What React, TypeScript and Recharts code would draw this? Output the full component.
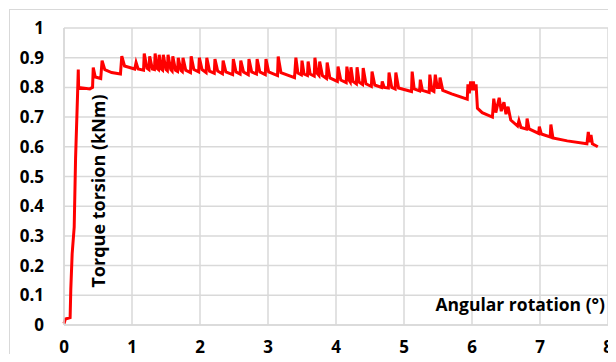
import { LineChart, Line, XAxis, YAxis, CartesianGrid } from "recharts";

// angular rotation (deg)
const angle = [
  0, 0.02, 0.09, 0.1, 0.12, 0.15, 0.17, 0.2, 0.21, 0.215, 0.38, 0.42, 0.43, 0.46, 0.54, 0.56, 0.6, 0.7,
  0.83, 0.85, 0.89, 1.04, 1.06, 1.09, 1.17, 1.18, 1.22, 1.25, 1.26, 1.3, 1.33, 1.34, 1.37, 1.39, 1.4,
  1.43, 1.45, 1.46, 1.5, 1.52, 1.53, 1.57, 1.59, 1.6, 1.64, 1.67, 1.68, 1.72, 1.74, 1.75, 1.79, 1.86,
  1.87, 1.91, 1.98, 1.99, 2.03, 2.09, 2.1, 2.14, 2.21, 2.22, 2.26, 2.33, 2.34, 2.38, 2.48, 2.49, 2.53,
  2.59, 2.6, 2.64, 2.71, 2.72, 2.76, 2.83, 2.84, 2.88, 2.96, 2.97, 3.01, 3.14, 3.15, 3.19, 3.39, 3.41,
  3.44, 3.49, 3.5, 3.53, 3.58, 3.59, 3.62, 3.68, 3.69, 3.72, 3.75, 3.76, 3.8, 3.86, 3.87, 3.91, 4.02,
  4.03, 4.07, 4.15, 4.16, 4.19, 4.21, 4.22, 4.25, 4.3, 4.31, 4.34, 4.39, 4.4, 4.44, 4.52, 4.53, 4.57,
  4.67, 4.68, 4.71, 4.77, 4.78, 4.82, 4.87, 4.88, 4.92, 5.11, 5.12, 5.15, 5.23, 5.24, 5.27, 5.37, 5.38,
  5.41, 5.44, 5.46, 5.49, 5.52, 5.53, 5.57, 5.7, 5.93, 5.94, 5.96, 5.98, 6.0, 6.02, 6.04, 6.06, 6.08,
  6.15, 6.3, 6.32, 6.35, 6.4, 6.43, 6.47, 6.5, 6.53, 6.57, 6.67, 6.69, 6.72, 6.8, 6.81, 6.84, 6.98,
  6.99, 7.02, 7.15, 7.16, 7.19, 7.4, 7.69, 7.71, 7.73, 7.75, 7.77, 7.85,
];

// torque (kNm)
const torque = [
  0.005, 0.02, 0.025, 0.12, 0.24, 0.33, 0.56, 0.78, 0.86, 0.8, 0.795, 0.8, 0.867, 0.835, 0.83, 0.89, 0.86, 0.85,
  0.845, 0.905, 0.872, 0.862, 0.884, 0.862, 0.858, 0.914, 0.865, 0.86, 0.905, 0.862, 0.86, 0.914, 0.864, 0.86, 0.91,
  0.862, 0.858, 0.91, 0.86, 0.856, 0.91, 0.86, 0.855, 0.905, 0.858, 0.854, 0.9, 0.857, 0.853, 0.9, 0.858, 0.85,
  0.905, 0.86, 0.852, 0.9, 0.86, 0.85, 0.9, 0.855, 0.848, 0.895, 0.855, 0.846, 0.89, 0.852, 0.843, 0.895, 0.852,
  0.845, 0.89, 0.852, 0.843, 0.895, 0.852, 0.845, 0.895, 0.852, 0.843, 0.895, 0.852, 0.84, 0.904, 0.85, 0.833, 0.9,
  0.848, 0.842, 0.89, 0.845, 0.84, 0.887, 0.845, 0.838, 0.9, 0.848, 0.84, 0.887, 0.84, 0.83, 0.884, 0.832, 0.82,
  0.87, 0.825, 0.816, 0.87, 0.825, 0.818, 0.868, 0.82, 0.812, 0.868, 0.818, 0.81, 0.865, 0.812, 0.803, 0.853, 0.808,
  0.8, 0.82, 0.8, 0.798, 0.85, 0.8, 0.795, 0.85, 0.798, 0.786, 0.853, 0.795, 0.788, 0.826, 0.79, 0.783, 0.843,
  0.79, 0.786, 0.843, 0.8, 0.8, 0.833, 0.79, 0.778, 0.76, 0.81, 0.78, 0.82, 0.79, 0.82, 0.79, 0.81, 0.73,
  0.715, 0.7, 0.762, 0.715, 0.765, 0.72, 0.75, 0.71, 0.735, 0.69, 0.67, 0.688, 0.665, 0.66, 0.695, 0.66, 0.645,
  0.668, 0.643, 0.633, 0.675, 0.63, 0.62, 0.61, 0.65, 0.615, 0.64, 0.61, 0.6,
];

const xTicks = [0, 1, 2, 3, 4, 5, 6, 7, 8];
const yTicks = [0, 0.1, 0.2, 0.3, 0.4, 0.5, 0.6, 0.7, 0.8, 0.9, 1];

const data = angle.map((a, i) => ({ angle: a, torque: torque[i] }));

const font = "'Open Sans', Lato, sans-serif";
const tickStyle = { fontSize: 17, fontWeight: 700, fill: "#000", fontFamily: font };

export default function App() {
  return (
    <div
      style={{
        position: "relative",
        width: 616,
        height: 362,
        margin: -8,
        overflow: "hidden",
        background: "#fff",
        fontFamily: font,
      }}
    >
      <div
        style={{
          position: "absolute",
          left: 9,
          top: 9,
          width: 620,
          height: 380,
          border: "1px solid #d9d9d9",
        }}
      />
      <LineChart
        width={616}
        height={362}
        data={data}
        margin={{ top: 28, right: 8, bottom: 7, left: 8 }}
      >
        <CartesianGrid stroke="#d9d9d9" strokeWidth={1.5} />
        <XAxis
          dataKey="angle"
          type="number"
          domain={[0, 8]}
          ticks={xTicks}
          tick={tickStyle}
          tickLine={false}
          tickSize={0}
          tickMargin={16}
          height={30}
          axisLine={{ stroke: "#d9d9d9", strokeWidth: 1.5 }}
        />
        <YAxis
          type="number"
          domain={[0, 1]}
          ticks={yTicks}
          tick={tickStyle}
          tickLine={false}
          tickSize={0}
          tickMargin={20}
          width={56}
          axisLine={{ stroke: "#d9d9d9", strokeWidth: 1.5 }}
        />
        <Line
          type="linear"
          dataKey="torque"
          stroke="#ff0000"
          strokeWidth={3}
          dot={false}
          isAnimationActive={false}
        />
      </LineChart>
      <div
        style={{
          position: "absolute",
          left: 98,
          top: 191,
          transform: "translate(-50%, -50%) rotate(-90deg)",
          whiteSpace: "nowrap",
          fontSize: 18,
          fontWeight: 700,
        }}
      >
        Torque torsion (kNm)
      </div>
      <div
        style={{
          position: "absolute",
          right: 11,
          top: 304,
          transform: "translateY(-50%)",
          whiteSpace: "nowrap",
          fontSize: 17.5,
          fontWeight: 700,
        }}
      >
        Angular rotation (°)
      </div>
    </div>
  );
}
